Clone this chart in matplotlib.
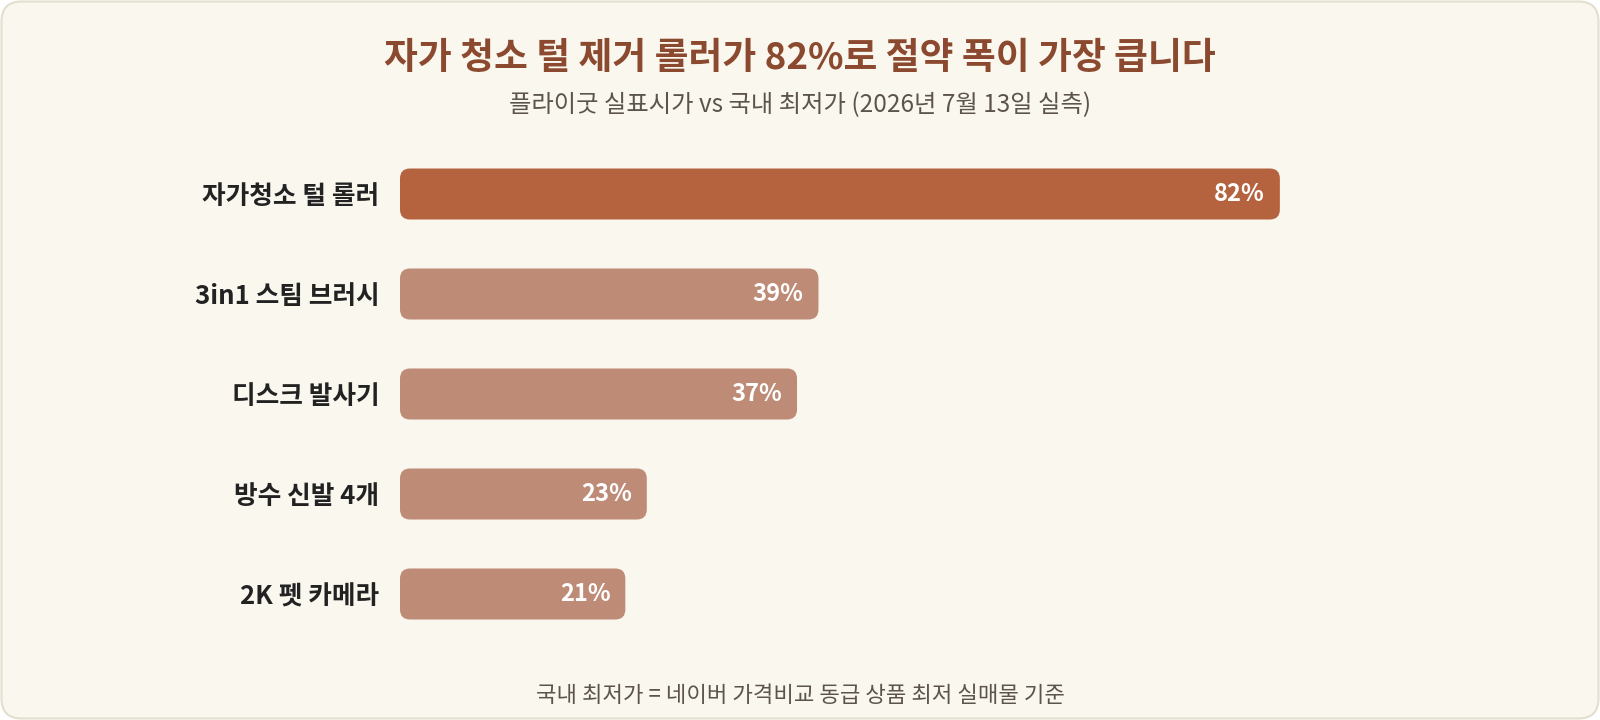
import matplotlib.pyplot as plt
from matplotlib.patches import FancyBboxPatch

plt.rcParams['font.family'] = ['Noto Sans CJK KR', 'DejaVu Sans']

# ── data ──────────────────────────────────────────────────────────────
items = ['자가청소 털 롤러', '3in1 스팀 브러시', '디스크 발사기', '방수 신발 4개', '2K 펫 카메라']
savings = [82, 39, 37, 23, 21]           # 절약 폭 (%)
highlight = [True, False, False, False, False]

title = '자가 청소 털 제거 롤러가 82%로 절약 폭이 가장 큽니다'
subtitle = '플라이굿 실표시가 vs 국내 최저가 (2026년 7월 13일 실측)'
footnote = '국내 최저가 = 네이버 가격비교 동급 상품 최저 실매물 기준'

# ── style ─────────────────────────────────────────────────────────────
BG = '#FAF7EF'
EDGE = '#E3DECF'
COL_HI = '#B5623F'
COL_LO = '#BE8B77'
COL_TITLE = '#8B4A2F'
COL_SUB = '#5C544B'
COL_LABEL = '#222222'

W, H = 1600, 720
fig = plt.figure(figsize=(W / 100, H / 100), dpi=100, facecolor='white')

# card background with rounded corners (behind everything)
fig.patches.append(FancyBboxPatch((1.5 / W, 1.5 / H), 1 - 3 / W, 1 - 3 / H,
                                  boxstyle='round,pad=0,rounding_size=0.0125',
                                  mutation_aspect=W / H,
                                  transform=fig.transFigure,
                                  facecolor=BG, edgecolor=EDGE, lw=1.5,
                                  zorder=-10))

# axes placed in pixel terms: bars start at x=400, slot height 100 px
ax_l, ax_w = 400, 1073
ax_top, ax_bot = 144, 644
ax = fig.add_axes([ax_l / W, (H - ax_bot) / H, ax_w / W, (ax_bot - ax_top) / H])
ax.set_facecolor('none')
ax.set_xlim(0, 100)
ax.set_ylim(len(items) - 0.5, -0.5)

px_x = ax_w / 100.0
px_y = (ax_bot - ax_top) / len(items)
bar_h = 0.51
r = 10 / px_x
asp = px_x / px_y

for i, (v, hi) in enumerate(zip(savings, highlight)):
    ax.add_patch(FancyBboxPatch((0, i - bar_h / 2), v, bar_h,
                                boxstyle=f'round,pad=0,rounding_size={r}',
                                mutation_aspect=asp,
                                facecolor=COL_HI if hi else COL_LO,
                                edgecolor='none', zorder=2))
    ax.text(v - 15 / px_x, i, f'{v}%', ha='right', va='center',
            fontsize=17, fontweight='bold', color='white', zorder=3)

ax.set_yticks(range(len(items)))
ax.set_yticklabels(items, fontsize=18.5, fontweight='bold', color=COL_LABEL)
ax.tick_params(axis='y', length=0, pad=15)
ax.set_xticks([])
for sp in ax.spines.values():
    sp.set_visible(False)

fig.text(0.5, 1 - 58 / H, title, ha='center', va='center',
         fontsize=26.5, fontweight='bold', color=COL_TITLE)
fig.text(0.5, 1 - 105 / H, subtitle, ha='center', va='center',
         fontsize=17.5, color=COL_SUB)
fig.text(0.5, 1 - 696 / H, footnote, ha='center', va='center',
         fontsize=16, color=COL_SUB)

fig.savefig('out.png', dpi=100, facecolor=fig.get_facecolor())
